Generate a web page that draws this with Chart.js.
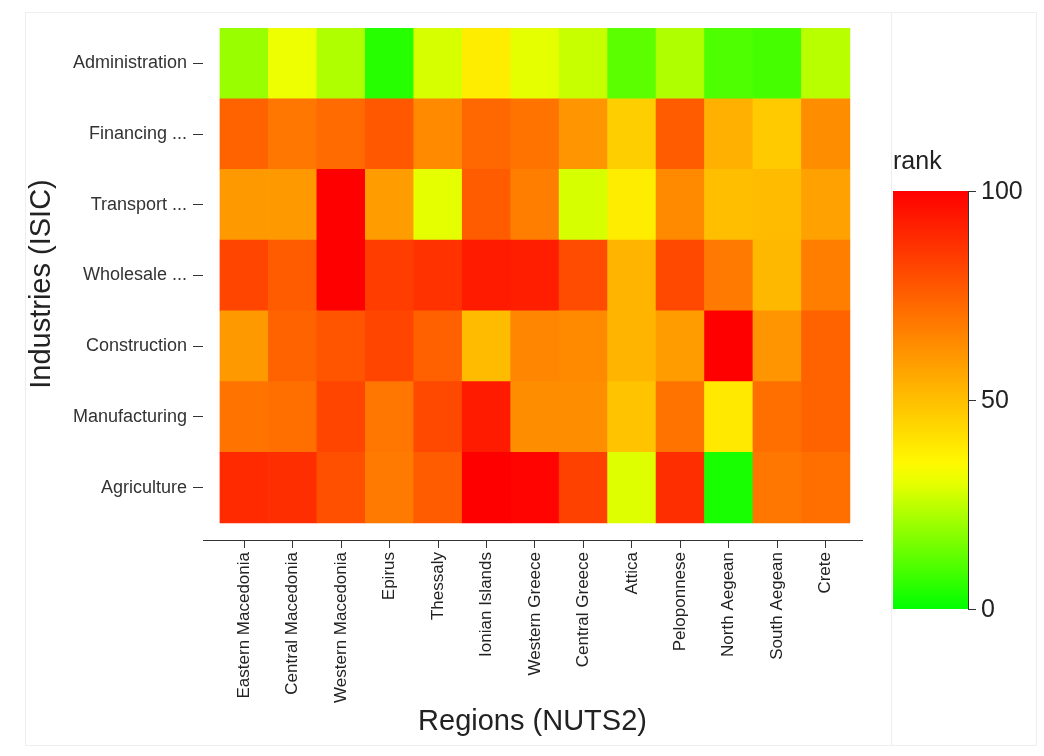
<!DOCTYPE html>
<html>
<head>
<meta charset="utf-8">
<script src="https://cdn.jsdelivr.net/npm/chart.js@4"></script>
<style>
  html, body { margin: 0; padding: 0; background: #fff; }
  #wrap { width: 1044px; height: 756px; position: relative; }
</style>
</head>
<body>
<div id="wrap"><canvas id="myChart" width="1044" height="756"></canvas></div>
<script>
// regions along x, industries bottom to top
var regions = ['Eastern Macedonia', 'Central Macedonia', 'Western Macedonia', 'Epirus', 'Thessaly',
    'Ionian Islands', 'Western Greece', 'Central Greece', 'Attica', 'Peloponnese',
    'North Aegean', 'South Aegean', 'Crete'];
var industries = ['Agriculture', 'Manufacturing', 'Construction', 'Wholesale ...',
    'Transport ...', 'Financing ...', 'Administration'];

// rank per region, one array per industry
var agriculture    = [89, 88, 79, 68, 76, 100, 99, 83, 29, 88, 3, 69, 71];
var manufacturing  = [70, 71, 82, 69, 81, 93, 63, 63, 49, 70, 39, 71, 74];
var construction   = [60, 74, 78, 82, 75, 51, 65, 64, 53, 59, 100, 61, 74];
var wholesale      = [82, 76, 100, 84, 87, 93, 92, 80, 53, 81, 68, 52, 67];
var transport      = [60, 60, 100, 59, 30, 76, 67, 28, 38, 64, 50, 51, 58];
var financing      = [74, 69, 72, 77, 64, 73, 70, 61, 46, 76, 54, 47, 63];
var administration = [20, 31, 23, 5, 28, 38, 30, 26, 12, 23, 10, 9, 24];

var rankRows = [agriculture, manufacturing, construction, wholesale, transport, financing, administration];
var rankTicks = [0, 50, 100];

function rankColor(v) {
    var r, g;
    if (v <= 33.3) {
        r = Math.round(255 * v / 33.3);
        g = 255;
    } else {
        r = 255;
        g = Math.round(255 * (100 - v) / 66.7);
    }
    return 'rgb(' + r + ',' + g + ',0)';
}

var datasets = rankRows.map(function (row, r) {
    return {
        label: industries[r],
        data: row.map(function (v, c) { return { x: c + 0.5, y: [r, r + 1] }; }),
        backgroundColor: row.map(rankColor),
        borderWidth: 0,
        barPercentage: 1,
        categoryPercentage: 1,
        stack: 'cells'
    };
});

// colour bar legend + faint frame
var colorBar = {
    id: 'colorBar',
    beforeDraw: function (chart) {
        var ctx = chart.ctx;
        ctx.save();
        ctx.fillStyle = '#fff';
        ctx.fillRect(0, 0, chart.width, chart.height);
        ctx.strokeStyle = '#eeeeee';
        ctx.lineWidth = 1;
        ctx.strokeRect(25.5, 12.5, 1011, 733);
        ctx.beginPath();
        ctx.moveTo(891.5, 12);
        ctx.lineTo(891.5, 745);
        ctx.stroke();
        ctx.restore();
    },
    afterDraw: function (chart) {
        var ctx = chart.ctx;
        var x0 = 893, x1 = 968, top = 191, bottom = 609;
        ctx.save();
        var grad = ctx.createLinearGradient(0, bottom, 0, top);
        for (var i = 0; i <= 20; i++) {
            grad.addColorStop(i / 20, rankColor(i * 5));
        }
        ctx.fillStyle = grad;
        ctx.fillRect(x0, top, x1 - x0, bottom - top);
        ctx.strokeStyle = '#333';
        ctx.lineWidth = 1;
        ctx.beginPath();
        ctx.moveTo(x1 + 0.5, top);
        ctx.lineTo(x1 + 0.5, bottom);
        ctx.stroke();
        ctx.fillStyle = '#222';
        ctx.font = '25px "Liberation Sans", Arial, sans-serif';
        ctx.textBaseline = 'middle';
        ctx.textAlign = 'left';
        rankTicks.forEach(function (t) {
            var y = Math.round(bottom - (bottom - top) * t / 100) + 0.5;
            ctx.beginPath();
            ctx.moveTo(x1, y);
            ctx.lineTo(x1 + 8, y);
            ctx.stroke();
            ctx.fillText(String(t), x1 + 13, y + 1);
        });
        ctx.fillText('rank', 893, 162);
        ctx.restore();
    }
};

var ctx = document.getElementById('myChart').getContext('2d');
var heat = new Chart(ctx, {
    type: 'bar',
    data: { datasets: datasets },
    plugins: [colorBar],
    options: {
        responsive: false,
        animation: false,
        layout: { padding: { top: 28, right: 182, bottom: 0, left: 0 } },
        plugins: {
            legend: { display: false },
            tooltip: { enabled: false }
        },
        scales: {
            x: {
                type: 'linear',
                stacked: true,
                offset: false,
                min: -0.35,
                max: 13.25,
                afterBuildTicks: function (scale) {
                    scale.ticks = regions.map(function (r, i) { return { value: i + 0.5 }; });
                },
                afterFit: function (scale) { scale.height = 216; },
                ticks: {
                    autoSkip: false,
                    maxRotation: 90,
                    minRotation: 90,
                    padding: 4,
                    color: '#222',
                    font: { family: '"Liberation Sans", Arial, sans-serif', size: 17 },
                    callback: function (v, i) { return regions[i]; }
                },
                grid: { offset: false, drawOnChartArea: false, drawTicks: true, tickLength: 8, color: '#333' },
                border: { display: true, color: '#333', width: 1 },
                title: {
                    display: true,
                    text: 'Regions (NUTS2)',
                    color: '#222',
                    padding: { top: 0, bottom: 17 },
                    font: { family: '"Liberation Sans", Arial, sans-serif', size: 29 }
                }
            },
            y: {
                type: 'linear',
                stacked: false,
                min: -0.24,
                max: 7,
                afterBuildTicks: function (scale) {
                    scale.ticks = industries.map(function (n, i) { return { value: i + 0.5 }; });
                },
                afterFit: function (scale) { scale.width = 203; },
                ticks: {
                    autoSkip: false,
                    padding: 6,
                    color: '#333',
                    font: { family: '"Liberation Sans", Arial, sans-serif', size: 18 },
                    callback: function (v, i) { return industries[i]; }
                },
                grid: { drawOnChartArea: false, drawTicks: true, tickLength: 10, color: '#333' },
                border: { display: false },
                title: {
                    display: true,
                    text: 'Industries (ISIC)',
                    color: '#222',
                    padding: { top: 25, bottom: 0 },
                    font: { family: '"Liberation Sans", Arial, sans-serif', size: 29 }
                }
            }
        }
    }
});
</script>
</body>
</html>
